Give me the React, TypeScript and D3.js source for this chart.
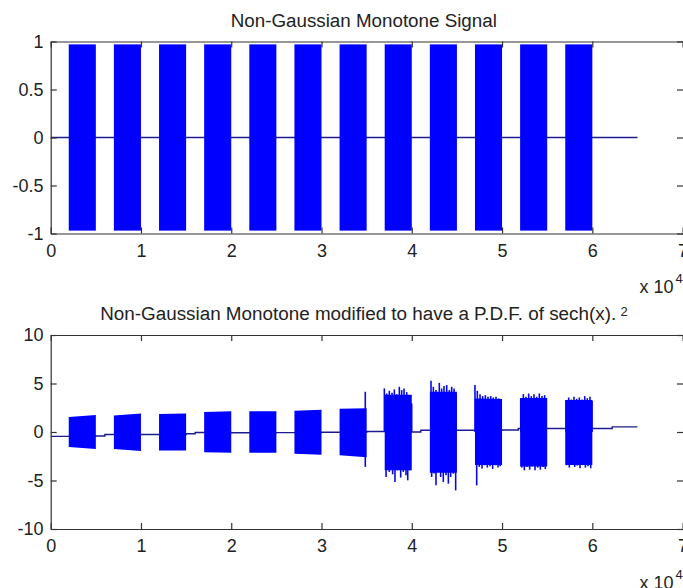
import { useEffect, useRef } from 'react';
import * as d3 from 'd3';

const W = 683;
const H = 588;
const FONT = '"Liberation Sans", Arial, Helvetica, sans-serif';

// burst timing, in samples (shared by both panels)
const burstStart = [2000, 7000, 12000, 17000, 22000, 27000, 32000, 37000, 42000, 47000, 52000, 57000];
const burstEnd = [5000, 10000, 15000, 20000, 25000, 30000, 35000, 40000, 45000, 50000, 55000, 60000];
const signalEnd = 65000;

const xTicks = [0, 10000, 20000, 30000, 40000, 50000, 60000, 70000];
const xTickLabels = ['0', '1', '2', '3', '4', '5', '6', '7'];

// top panel
const toneAmp = 0.97;
const topYTicks = [-1, -0.5, 0, 0.5, 1];
const topYLabels = ['-1', '-0.5', '0', '0.5', '1'];

// bottom panel
const botYTicks = [-10, -5, 0, 5, 10];
const botYLabels = ['-10', '-5', '0', '5', '10'];

// envelope of each burst (left / right edge values)
const coreTopL = [1.55, 1.7, 1.85, 2.05, 2.15, 2.2, 2.4, 3.85, 4.15, 3.45, 3.5, 3.3];
const coreTopR = [1.75, 1.9, 1.9, 2.15, 2.15, 2.3, 2.45, 3.85, 4.15, 3.4, 3.5, 3.3];
const coreBotL = [-1.55, -1.75, -1.9, -2.1, -2.15, -2.25, -2.4, -3.95, -4.2, -3.4, -3.55, -3.4];
const coreBotR = [-1.75, -1.95, -1.9, -2.15, -2.15, -2.35, -2.6, -3.95, -4.2, -3.4, -3.55, -3.4];

// slowly drifting baseline between bursts (step points)
const baseX = [0, 5000, 6000, 10000, 15000, 16000, 20000, 25000, 30000, 35000, 40000, 41000, 45000, 50000, 51800, 55000, 60000, 62200, 65000];
const baseY = [-0.45, -0.42, -0.25, -0.25, -0.18, -0.05, -0.08, -0.06, -0.03, 0.05, 0.0, 0.18, 0.18, 0.2, 0.36, 0.36, 0.36, 0.53, 0.53];

// peaks sticking out of the noisy bursts
const spikeUpX = [
  34850,
  36960, 37220, 37510, 37810, 38070, 38330, 38620, 38880, 39140, 39440, 39720, 39990,
  42130, 42390, 42680, 43050, 43310, 43570, 43870, 44160, 44420, 44680, 44900,
  47000, 47260, 47560, 47850, 48150, 48440, 48740, 49030, 49330, 49630, 49850,
  52070, 52360, 52650, 52950, 53240, 53540, 53840, 54130, 54430, 54720, 54870,
  57090, 57380, 57670, 57970, 58270, 58560, 58860, 59160, 59440, 59740, 59970,
];
const spikeUpY = [
  4.15,
  4.49, 3.97, 4.25, 4.04, 4.39, 3.9, 4.66, 4.32, 4.49, 4.11, 3.8, 2.94,
  5.28, 4.66, 4.32, 5.07, 4.49, 4.73, 4.84, 4.32, 4.66, 4.49, 3.97,
  4.84, 4.25, 3.9, 3.7, 3.8, 3.63, 3.7, 3.56, 3.63, 3.46, 3.28,
  3.46, 3.9, 3.63, 3.97, 3.7, 3.9, 3.63, 3.97, 3.7, 3.8, 3.46,
  3.28, 3.56, 3.35, 3.63, 3.42, 3.56, 3.35, 3.7, 3.49, 3.63, 3.21,
];
const spikeDownX = [
  34850,
  37150, 37510, 37880, 38140, 38440, 38770, 39060, 39360, 39550, 39800,
  42200, 42460, 42680, 42940, 43200, 43490, 43790, 44050, 44310, 44600, 44860,
  47190, 47480, 47780, 48080, 48370, 48670, 48960, 49260, 49550, 49800,
  52180, 52470, 52760, 53060, 53350, 53650, 53950, 54240, 54540, 54790,
  57160, 57450, 57750, 58050, 58340, 58640, 58940, 59230, 59520, 59820,
];
const spikeDownY = [
  -3.6,
  -4.64, -4.12, -4.36, -5.15, -3.95, -4.7, -4.12, -4.47, -4.98, -3.95,
  -4.64, -4.29, -5.5, -3.95, -4.64, -5.15, -4.47, -5.33, -4.64, -4.29, -6.02,
  -5.5, -3.6, -3.77, -3.43, -3.67, -3.53, -3.81, -3.43, -3.67, -3.53,
  -3.67, -3.95, -3.6, -3.88, -3.53, -3.95, -3.67, -3.88, -3.6, -3.81,
  -3.43, -3.67, -3.33, -3.6, -3.46, -3.74, -3.4, -3.67, -3.53, -3.74,
];

const BLUE = '#0000ff';
const SPIKE = '#0808e6';
const LINE = '#1c1c8c';
const AXIS = '#333';

type Sel = d3.Selection<SVGGElement, unknown, null, undefined>;

function drawAxes(
  g: Sel,
  x: d3.ScaleLinear<number, number>,
  y: d3.ScaleLinear<number, number>,
  yTicks: number[],
  yLabels: string[]
) {
  const left = x.range()[0];
  const right = 684; // the box runs just past the picture's right edge
  const [bottom, top] = y.range();

  g.append('g')
    .attr('transform', `translate(0,${bottom})`)
    .call(
      d3.axisBottom(x).tickValues(xTicks)
        .tickFormat((_d, i) => xTickLabels[i])
        .tickSizeInner(-6).tickSizeOuter(0).tickPadding(10.5)
    );
  g.append('g')
    .attr('transform', `translate(0,${top})`)
    .call(d3.axisTop(x).tickValues(xTicks).tickFormat(() => '').tickSizeInner(-6).tickSizeOuter(0));
  g.append('g')
    .attr('transform', `translate(${left},0)`)
    .call(
      d3.axisLeft(y).tickValues(yTicks)
        .tickFormat((_d, i) => yLabels[i])
        .tickSizeInner(-6).tickSizeOuter(0).tickPadding(7.2)
    );
  g.append('g')
    .attr('transform', `translate(${right},0)`)
    .call(d3.axisRight(y).tickValues(yTicks).tickFormat(() => '').tickSizeInner(-7).tickSizeOuter(0));

  g.selectAll('path.domain').attr('stroke', AXIS).attr('stroke-width', 1.2);
  g.selectAll('.tick line').attr('stroke', AXIS).attr('stroke-width', 1.2);
  g.selectAll('.tick text')
    .attr('fill', '#222')
    .attr('font-size', 18)
    .attr('font-family', FONT);
}

function drawScaleNote(svg: d3.Selection<SVGSVGElement, unknown, null, undefined>, baseline: number) {
  svg.append('text')
    .attr('x', 639.5).attr('y', baseline)
    .attr('font-size', 18).attr('font-family', FONT).attr('fill', '#222')
    .text('x 10');
  svg.append('text')
    .attr('x', 675.5).attr('y', baseline - 10)
    .attr('font-size', 13).attr('font-family', FONT).attr('fill', '#222')
    .text('4');
}

export default function App() {
  const ref = useRef<SVGSVGElement | null>(null);

  useEffect(() => {
    if (!ref.current) return;
    const svg = d3.select(ref.current);
    svg.selectAll('*').remove();

    svg.append('rect').attr('width', W).attr('height', H).attr('fill', '#fff');

    const x = d3.scaleLinear().domain([0, 70000]).range([50.7, 682.6]);
    const bursts = burstStart.map((s, i) => ({ s, e: burstEnd[i], i }));

    // ---------- top panel ----------
    const yTop = d3.scaleLinear().domain([-1, 1]).range([233.5, 41.5]);
    const gTop = svg.append('g');

    gTop.append('path')
      .datum([0, signalEnd])
      .attr('fill', 'none')
      .attr('stroke', LINE)
      .attr('stroke-width', 1.4)
      .attr('d', d3.line<number>().x((d) => x(d)).y(() => yTop(0)));

    gTop.selectAll('rect.burst')
      .data(bursts)
      .join('rect')
      .attr('class', 'burst')
      .attr('x', (d) => x(d.s))
      .attr('width', (d) => x(d.e) - x(d.s))
      .attr('y', yTop(toneAmp))
      .attr('height', yTop(-toneAmp) - yTop(toneAmp))
      .attr('fill', BLUE);

    drawAxes(gTop, x, yTop, topYTicks, topYLabels);

    svg.append('text')
      .attr('x', 230.8).attr('y', 26.5)
      .attr('font-size', 18).attr('font-family', FONT).attr('fill', '#222')
      .attr('textLength', 266).attr('lengthAdjust', 'spacingAndGlyphs')
      .text('Non-Gaussian Monotone Signal');
    drawScaleNote(svg, 293.3);

    // ---------- bottom panel ----------
    const yBot = d3.scaleLinear().domain([-10, 10]).range([529, 335]);
    const gBot = svg.append('g');

    const base = baseX.map((bx, i) => [bx, baseY[i]] as [number, number]);
    gBot.append('path')
      .datum(base)
      .attr('fill', 'none')
      .attr('stroke', LINE)
      .attr('stroke-width', 1.4)
      .attr('d', d3.line<[number, number]>().x((d) => x(d[0])).y((d) => yBot(d[1])).curve(d3.curveStepAfter));

    const ups = spikeUpX.map((sx, i) => ({ sx, v: spikeUpY[i] }));
    const downs = spikeDownX.map((sx, i) => ({ sx, v: spikeDownY[i] }));
    gBot.selectAll('line.spike')
      .data([...ups, ...downs])
      .join('line')
      .attr('class', 'spike')
      .attr('x1', (d) => x(d.sx))
      .attr('x2', (d) => x(d.sx))
      .attr('y1', yBot(0))
      .attr('y2', (d) => yBot(d.v))
      .attr('stroke', SPIKE)
      .attr('stroke-width', 1.6);

    const area = d3.area<{ t: number; v: [number, number] }>()
      .x((d) => x(d.t))
      .y0((d) => yBot(d.v[0]))
      .y1((d) => yBot(d.v[1]));

    gBot.selectAll('path.burst')
      .data(bursts)
      .join('path')
      .attr('class', 'burst')
      .attr('fill', BLUE)
      .attr('d', (d) =>
        area([
          { t: d.s, v: [coreBotL[d.i], coreTopL[d.i]] },
          { t: d.e, v: [coreBotR[d.i], coreTopR[d.i]] },
        ])
      );

    drawAxes(gBot, x, yBot, botYTicks, botYLabels);

    svg.append('text')
      .attr('x', 100.2).attr('y', 320)
      .attr('font-size', 18).attr('font-family', FONT).attr('fill', '#222')
      .attr('textLength', 516).attr('lengthAdjust', 'spacingAndGlyphs')
      .text('Non-Gaussian Monotone modified to have a P.D.F. of sech(x).');
    svg.append('text')
      .attr('x', 620.5).attr('y', 315.5)
      .attr('font-size', 13).attr('font-family', FONT).attr('fill', '#222')
      .text('2');
    drawScaleNote(svg, 588.5);
  }, []);

  return (
    <svg
      ref={ref}
      width={W}
      height={H}
      style={{ position: 'absolute', left: 0, top: 0, display: 'block' }}
    />
  );
}
